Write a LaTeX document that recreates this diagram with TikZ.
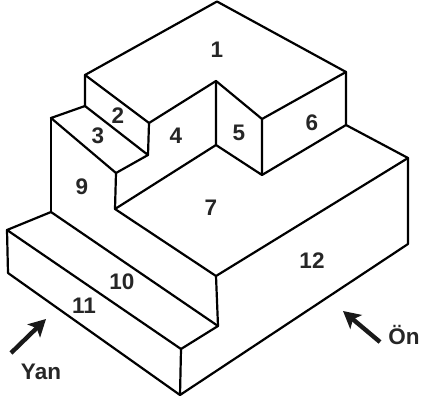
\documentclass[tikz,border=0pt]{standalone}
\usepackage{fontspec}
\setmainfont{Liberation Sans}
\usetikzlibrary{arrows.meta, positioning, calc}

\tikzset{
  Edge/.style={line width=2.2pt,line cap=round,line join=round},
  Face/.style={font=\fontsize{22.5}{22.5}\selectfont\bfseries,text=black!85,inner sep=0pt},
  ViewArrow/.style={-{Stealth[length=17pt,width=18pt,inset=4pt]},line width=4.4pt,black!90}
}

\begin{document}
\begin{tikzpicture}[x=1pt,y=-1pt]
  \useasboundingbox (0,0) rectangle (422,401);

  % upper block
  \coordinate (V1) at (217,1.5);
  \coordinate (V2) at (346,72);
  \coordinate (V3) at (262,119);
  \coordinate (V4) at (216,81);
  \coordinate (V5) at (149,123);
  \coordinate (V6) at (85,75);
  \coordinate (V7) at (85,106);
  \coordinate (V8) at (148,155);
  \coordinate (V9) at (51,118);
  \coordinate (V10) at (116,173);
  \coordinate (V11) at (115,209);
  \coordinate (V12) at (216,145);
  \coordinate (V13) at (262,175);
  \coordinate (V14) at (346,125);

  % base
  \coordinate (V15) at (408,158);
  \coordinate (V16) at (408,244);
  \coordinate (V17) at (216,276);
  \coordinate (V18) at (218,326);
  \coordinate (V19) at (51,212);
  \coordinate (V20) at (7,230);
  \coordinate (V21) at (8,273);
  \coordinate (V22) at (181,349);
  \coordinate (V23) at (180,395);

  \draw[Edge] (V1) -- (V2) -- (V3) -- (V4) -- (V5) -- (V6) -- (V1);
  \draw[Edge] (V6) -- (V7) -- (V8) -- (V5);
  \draw[Edge] (V7) -- (V9) -- (V10) -- (V8);
  \draw[Edge] (V9) -- (V19);
  \draw[Edge] (V10) -- (V11) -- (V12) -- (V4);
  \draw[Edge] (V12) -- (V13) -- (V3);
  \draw[Edge] (V13) -- (V14) -- (V2);
  \draw[Edge] (V14) -- (V15) -- (V17) -- (V11);
  \draw[Edge] (V15) -- (V16) -- (V23) -- (V22) -- (V18) -- (V17);
  \draw[Edge] (V19) -- (V18);
  \draw[Edge] (V19) -- (V20) -- (V22);
  \draw[Edge] (V20) -- (V21) -- (V23);

  \node[Face] (F1) at (217,50) {1};
  \node[Face] (F2) at (118,116) {2};
  \node[Face] (F3) at (98,136) {3};
  \node[Face] (F4) at (176,136) {4};
  \node[Face] (F5) at (239,133) {5};
  \node[Face] (F6) at (312,123) {6};
  \node[Face] (F7) at (211,208) {7};
  \node[Face] (F9) at (82,187) {9};
  \node[Face] (F10) at (122,282) {10};
  \node[Face] (F11) at (84,306) {11};
  \node[Face] (F12) at (312,261) {12};
  \node[Face] (Yan) at (41,372) {Yan};
  \node[Face] (On) at (404,335) {Ön};

  \coordinate (Y1) at (11,353);
  \coordinate (Y2) at (46,319);
  \coordinate (O1) at (380,342);
  \coordinate (O2) at (343,311);
  \draw[ViewArrow] (Y1) -- (Y2);
  \draw[ViewArrow] (O1) -- (O2);
\end{tikzpicture}
\end{document}
